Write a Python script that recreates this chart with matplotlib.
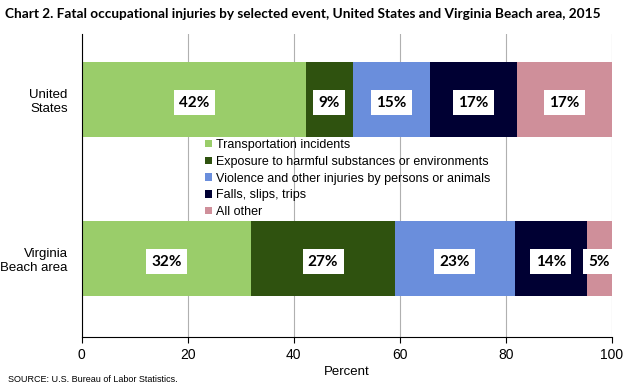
import matplotlib.pyplot as plt
import numpy as np

# Chart data
areas = ['Virginia\nBeach area', 'United\nStates']
events = ['Transportation incidents',
          'Exposure to harmful substances or environments',
          'Violence and other injuries by persons or animals',
          'Falls, slips, trips',
          'All other']
us_values = [42.4, 8.7, 14.6, 16.5, 17.8]
vb_values = [32.0, 27.1, 22.6, 13.6, 4.7]
us_labels = ['42%', '9%', '15%', '17%', '17%']
vb_labels = ['32%', '27%', '23%', '14%', '5%']

colors = ['#9ACD6A', '#2F520F', '#6A8EDC', '#000033', '#CF8F9A']

plt.rcParams['font.family'] = ['Liberation Sans', 'DejaVu Sans']

fig = plt.figure(figsize=(6.25, 3.88), dpi=100)
ax = fig.add_axes([0.1307, 0.131, 0.848, 0.781])

values = np.array([vb_values, us_values])
labels = [vb_labels, us_labels]
ypos = np.arange(len(areas))
left = np.zeros(len(areas))
for i, ev in enumerate(events):
    ax.barh(ypos, values[:, i], left=left, height=0.47, color=colors[i],
            label=ev, zorder=2)
    for j in range(len(areas)):
        ax.text(left[j] + values[j, i] / 2, ypos[j] - 0.02, labels[j][i],
                ha='center', va='center', fontsize=11, fontweight='bold',
                family=['Lato', 'DejaVu Sans'], zorder=3, clip_on=False,
                bbox=dict(boxstyle='square,pad=0.35', fc='white', ec='none'))
    left += values[:, i]

ax.set_xlim(0, 100)
ax.set_ylim(-0.494, 1.412)
ax.set_xticks([0, 20, 40, 60, 80, 100])
ax.set_yticks(ypos)
ax.set_yticklabels(areas, fontsize=9.5, ha='right', multialignment='right')
ax.tick_params(axis='y', length=0, pad=10)
ax.tick_params(axis='x', labelsize=10, length=4, direction='out')
ax.grid(axis='x', color='#B0B0B0', linewidth=0.8, zorder=0)
for s in ['top', 'right']:
    ax.spines[s].set_visible(False)
ax.set_xlabel('Percent', fontsize=9.5, labelpad=3)

fig.legend(loc='upper left', bbox_to_anchor=(205 / 625, 1 - 139 / 388),
           frameon=False, fontsize=9, handlelength=0.55, handleheight=0.55,
           handletextpad=0.3, labelspacing=0.38, borderpad=0, borderaxespad=0)

fig.text(0.008, 1 - 14 / 388, 'Chart 2. Fatal occupational injuries by selected event, '
         'United States and Virginia Beach area, 2015',
         fontsize=9.8, fontweight='bold', family=['Lato', 'DejaVu Sans'], va='center')
fig.text(0.013, 1 - 380 / 388, 'SOURCE: U.S. Bureau of Labor Statistics.',
         fontsize=6.5, va='center')

fig.savefig('out.png', dpi=100)
